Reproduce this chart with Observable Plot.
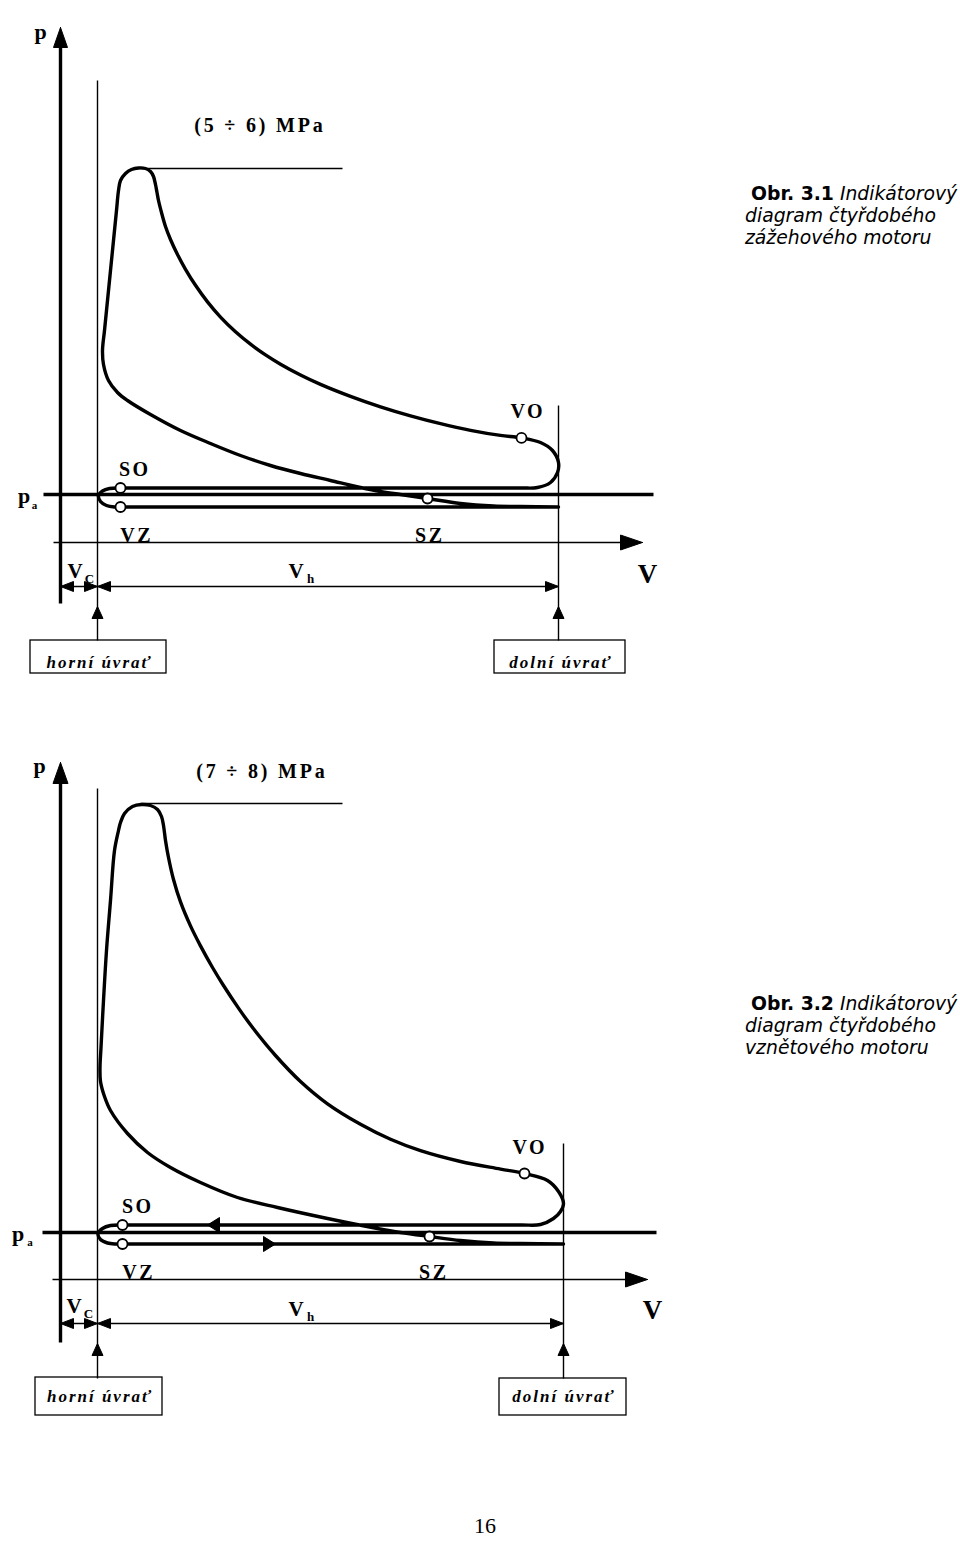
<!DOCTYPE html>
<html>
<head>
<meta charset="utf-8">
<script src="https://cdn.jsdelivr.net/npm/d3@7"></script>
<script src="https://cdn.jsdelivr.net/npm/@observablehq/plot@0.6"></script>
<style>
  html, body { margin: 0; padding: 0; background: #fff; }
  #page { position: relative; width: 960px; height: 1546px; overflow: hidden; background: #fff; }
  #page svg { display: block; }
  .cap { position: absolute; left: 745px; font-family: "DejaVu Sans", Verdana, sans-serif; font-size: 18.8px; line-height: 22px; color: #000; white-space: nowrap; }
  .cap b { font-weight: bold; }
  .cap i { font-style: italic; }
  .cap .l1 { padding-left: 6px; }
  .pg { position: absolute; left: 0; width: 970px; text-align: center; font-family: "Liberation Serif", "Times New Roman", serif; font-size: 22px; line-height: 22px; color: #000; }
</style>
</head>
<body>
<div id="page"></div>
<script>
// ===================== DATA =====================
// Diagram units: V = distance to the right of the p axis, p = height above the V axis.

// --- Obr. 3.1  (spark-ignition / zážehový) ---
const captionSI = ["Obr. 3.1", "Indikátorový", "diagram čtyřdobého", "zážehového motoru"];
const peakLabelSI = "(5 ÷ 6) MPa";
const cycleSI = [
  // compression (from BDC back to TDC)
  [498,35.5],[460,36],[433,36.5],[400,39],[367,44],[340,48],[320,51],[300,55],[270,62],[240,69],
  [210,77],[180,87],[150,99],[120,112],[90,128],[67,142],[57,150],[48,162],[43,178],[42,192],
  // combustion + peak
  [44,212],[47,242],[50,272],[53,302],[56,332],[58,352],[60,362],[65,369],[71,373],[78,374.5],
  [85,374],[90,371],[93,366],[95,358],[96.5,350],[98,342],
  // expansion
  [101,330],[105,316],[110,303],[117,288],[125,273.2],[135,257.2],[147,240.6],[160,225.4],[175,210.7],[190,198.3],
  [205,187.6],[220,178.3],[240,167.5],[260,158.1],[290,146.1],[320,135.6],[350,126.6],[380,118.8],[410,112.2],[440,107.1],
  [461,104.6],
  // blow-down, exhaust, overlap loop, intake
  [480,100],[492,92],[498,80],[497,70],[490,60],[477,55],[460,54.5],[340,54.5],[190,54.5],[80,54.5],
  [60,54.5],[49,54],[42,51.5],[38,47],[40,41],[46,37],[54,35.5],[60,35.5],[190,35.5],[340,35.5],[498,35.5]
];
const markersSI = [
  {name: "SO", V: 60, p: 54.5}, {name: "VZ", V: 60, p: 35.5},
  {name: "SZ", V: 367, p: 44}, {name: "VO", V: 461, p: 104.6}
];
const pointLabelsSI = [
  {text: "SO", V: 73, p: 67}, {text: "VZ", V: 75, p: 1},
  {text: "SZ", V: 368, p: 1}, {text: "VO", V: 466, p: 125}
];
const thinLinesSI = [
  {V1: 37, p1: -98, V2: 37, p2: 462},     // horní úvrať
  {V1: 498, p1: -98, V2: 498, p2: 137},   // dolní úvrať
  {V1: 80, p1: 374, V2: 282, p2: 374},    // peak pressure level
  {V1: -7, p1: 0, V2: 565, p2: 0},        // V axis
  {V1: 0, p1: -44, V2: 498, p2: -44}      // Vc / Vh dimension
];
const thickLinesSI = [
  {V1: 0, p1: -61, V2: 0, p2: 500},       // p axis
  {V1: -17, p1: 48, V2: 593, p2: 48}      // pa
];
const arrowsSI = [
  {V: 0, p: 515, dir: "up", len: 20, half: 7},
  {V: 582, p: 0, dir: "right", len: 22, half: 7.5},
  {V: 0, p: -44, dir: "left", len: 13, half: 5},
  {V: 37, p: -44, dir: "right", len: 13, half: 5},
  {V: 37, p: -44, dir: "left", len: 13, half: 5},
  {V: 498, p: -44, dir: "right", len: 13, half: 5},
  {V: 37, p: -64, dir: "up", len: 12, half: 5.5},
  {V: 498, p: -64, dir: "up", len: 12, half: 5.5}
];
const boxesSI = [
  {text: "horní úvrať", V1: -30, V2: 106, p1: -98, p2: -131, tV: 38, tp: -125},
  {text: "dolní úvrať", V1: 434, V2: 565, p1: -98, p2: -131, tV: 499.5, tp: -125}
];
const axisLabelsSI = [{text: "p", V: -20, p: 504, size: "big"}, {text: "V", V: 587, p: -40, size: "huge"}];
const subLabelsSI = [
  {main: "p", sub: "a", V: -36.5, p: 40, sV: -26, sp: 34},
  {main: "V", sub: "C", V: 14.5, p: -35, sV: 29, sp: -40},
  {main: "V", sub: "h", V: 235.5, p: -35, sV: 250, sp: -40}
];
const peakPosSI = {V: 198, p: 411};

// --- Obr. 3.2  (compression-ignition / vznětový) ---
const captionCI = ["Obr. 3.2", "Indikátorový", "diagram čtyřdobého", "vznětového motoru"];
const peakLabelCI = "(7 ÷ 8) MPa";
const cycleCI = [
  // compression
  [503,35.5],[460,36],[433,36.5],[400,39],[369,43],[340,47],[317,51],[267,61],[217,72],[177,82],
  [140,97],[110,112],[87,127],[67,146],[50,169],[44,183],[40,198],[39.5,212],[40.5,232],
  // combustion + peak
  [43,279],[46,329],[50,379],[54,429],[58,449],[60,457],[64,466],[72,473],[81,475],[90,474],
  [97,470],[101,463],[103,454],[105,439],[108,422],
  // expansion
  [113,400],[120,377.6],[130,353.6],[140,333.6],[152,312],[163,294],[178,271.4],[193,250.7],[215,224],[240,198],
  [267,175.7],[300,155.2],[330,140.2],[360,128.8],[400,118],[440,110.4],[464,106],
  // blow-down, exhaust, overlap loop, intake
  [487,99],[498,88],[503,76],[500,68],[493,61],[480,55],[460,54.5],[340,54.5],[190,54.5],[80,54.5],
  [62,54.5],[50,54],[42,51],[37.5,46],[40,40],[47,36.5],[55,35.5],[62,35.5],[190,35.5],[340,35.5],[503,35.5]
];
const markersCI = [
  {name: "SO", V: 62, p: 54.5}, {name: "VZ", V: 62, p: 35.5},
  {name: "SZ", V: 369, p: 43}, {name: "VO", V: 464, p: 106}
];
const pointLabelsCI = [
  {text: "SO", V: 76, p: 67}, {text: "VZ", V: 77, p: 1},
  {text: "SZ", V: 372, p: 1}, {text: "VO", V: 468, p: 126}
];
const thinLinesCI = [
  {V1: 37, p1: -99, V2: 37, p2: 491},
  {V1: 503, p1: -99, V2: 503, p2: 136},
  {V1: 80, p1: 476, V2: 282, p2: 476},
  {V1: -8, p1: 0, V2: 570, p2: 0},
  {V1: 0, p1: -44, V2: 503, p2: -44}
];
const thickLinesCI = [
  {V1: 0, p1: -63, V2: 0, p2: 500},
  {V1: -18, p1: 47, V2: 596, p2: 47}
];
const arrowsCI = [
  {V: 0, p: 517, dir: "up", len: 21, half: 7.5},
  {V: 587, p: 0, dir: "right", len: 22, half: 7.5},
  {V: 0, p: -44, dir: "left", len: 13, half: 5},
  {V: 37, p: -44, dir: "right", len: 13, half: 5},
  {V: 37, p: -44, dir: "left", len: 13, half: 5},
  {V: 503, p: -44, dir: "right", len: 13, half: 5},
  {V: 37, p: -64, dir: "up", len: 12, half: 5.5},
  {V: 503, p: -64, dir: "up", len: 12, half: 5.5},
  {V: 147, p: 54.5, dir: "left", len: 12, half: 7.5},   // exhaust direction
  {V: 215, p: 35.5, dir: "right", len: 12, half: 7.5}   // intake direction
];
const boxesCI = [
  {text: "horní úvrať", V1: -25, V2: 102, p1: -98, p2: -136, tV: 38.5, tp: -122},
  {text: "dolní úvrať", V1: 439, V2: 566, p1: -99, p2: -136, tV: 502.5, tp: -122}
];
const axisLabelsCI = [{text: "p", V: -21, p: 507, size: "big"}, {text: "V", V: 592, p: -39, size: "huge"}];
const subLabelsCI = [
  {main: "p", sub: "a", V: -42.5, p: 39, sV: -30.5, sp: 34},
  {main: "V", sub: "C", V: 13.5, p: -33, sV: 28, sp: -38},
  {main: "V", sub: "h", V: 235.5, p: -36, sV: 250, sp: -41}
];
const peakPosCI = {V: 200, p: 502};

const pageNumber = "16";

// ===================== DRAWING =====================
const SERIF = "Liberation Serif, Times New Roman, serif";
const letterSpacingByText = {
  "SO": 2.5, "VZ": 2.5, "SZ": 2.5, "VO": 2.5,
  "(5 ÷ 6) MPa": 2.8, "(7 ÷ 8) MPa": 2.8,
  "horní úvrať": 2, "dolní úvrať": 2
};

function triangles(list) {
  const out = [];
  list.forEach((a, i) => {
    const {V, p, dir, len, half} = a;
    let pts;
    if (dir === "up") pts = [[V, p], [V - half, p - len], [V + half, p - len]];
    else if (dir === "down") pts = [[V, p], [V - half, p + len], [V + half, p + len]];
    else if (dir === "right") pts = [[V, p], [V - len, p + half], [V - len, p - half]];
    else pts = [[V, p], [V + len, p + half], [V + len, p - half]];
    pts.push(pts[0]);
    pts.forEach(([x, y]) => out.push({id: i, V: x, p: y}));
  });
  return out;
}

function diagram(d) {
  const svg = Plot.plot({
    width: 960,
    height: d.height,
    margin: 0,
    x: {domain: [-60, 900], range: [0, 960], axis: null},
    y: {domain: [d.pTop, d.pTop - d.height], range: [0, d.height], axis: null},
    style: {background: "white", overflow: "visible"},
    marks: [
      Plot.rect(d.boxes, {x1: "V1", x2: "V2", y1: "p1", y2: "p2", fill: "white", stroke: "black", strokeWidth: 1.3}),
      Plot.link(d.thin, {x1: "V1", y1: "p1", x2: "V2", y2: "p2", stroke: "black", strokeWidth: 1.4}),
      Plot.link(d.thick, {x1: "V1", y1: "p1", x2: "V2", y2: "p2", stroke: "black", strokeWidth: 3.4}),
      Plot.line(d.cycle, {x: (q) => q[0], y: (q) => q[1], curve: "catmull-rom", stroke: "black",
        strokeWidth: 3.4, strokeLinejoin: "round", strokeLinecap: "round"}),
      Plot.line(triangles(d.arrows), {x: "V", y: "p", z: "id", fill: "black", stroke: "black", strokeWidth: 1, strokeLinejoin: "miter"}),
      Plot.dot(d.markers, {x: "V", y: "p", r: 5, fill: "white", stroke: "black", strokeWidth: 1.8}),
      Plot.text(d.pointLabels, {x: "V", y: "p", text: "text", fontFamily: SERIF, fontWeight: "bold", fontSize: 20,
        lineAnchor: "bottom", textAnchor: "middle", fill: "black"}),
      Plot.text([d.peakLabel], {x: () => d.peakPos.V, y: () => d.peakPos.p, text: (t) => t, fontFamily: SERIF,
        fontWeight: "bold", fontSize: 20, lineAnchor: "bottom", textAnchor: "middle", fill: "black"}),
      Plot.text(d.axisLabels.filter((a) => a.size === "big"), {x: "V", y: "p", text: "text", fontFamily: SERIF, fontWeight: "bold",
        fontSize: 22, lineAnchor: "bottom", textAnchor: "middle", fill: "black"}),
      Plot.text(d.axisLabels.filter((a) => a.size === "huge"), {x: "V", y: "p", text: "text", fontFamily: SERIF, fontWeight: "bold",
        fontSize: 27, lineAnchor: "bottom", textAnchor: "middle", fill: "black"}),
      Plot.text(d.subLabels, {x: "V", y: "p", text: "main", fontFamily: SERIF, fontWeight: "bold",
        fontSize: (s) => s.main === "p" ? 22 : 21, lineAnchor: "bottom", textAnchor: "middle", fill: "black"}),
      Plot.text(d.subLabels, {x: "sV", y: "sp", text: "sub", fontFamily: SERIF, fontWeight: "bold",
        fontSize: (s) => s.sub === "a" ? 11 : 13, lineAnchor: "bottom", textAnchor: "middle", fill: "black"}),
      Plot.text(d.boxes, {x: "tV", y: "tp", text: "text", fontFamily: SERIF, fontWeight: "bold", fontStyle: "italic",
        fontSize: 17, lineAnchor: "bottom", textAnchor: "middle", fill: "black"})
    ]
  });
  svg.querySelectorAll("text").forEach((t) => {
    const v = letterSpacingByText[t.textContent];
    if (v) {
      t.style.letterSpacing = v + "px";
      t.setAttribute("dx", (v / 2) + "px");
    }
  });
  return svg;
}

const page = document.getElementById("page");

page.appendChild(diagram({
  height: 700, pTop: 542,
  cycle: cycleSI, markers: markersSI, pointLabels: pointLabelsSI, thin: thinLinesSI, thick: thickLinesSI,
  arrows: arrowsSI, boxes: boxesSI, axisLabels: axisLabelsSI, subLabels: subLabelsSI,
  peakLabel: peakLabelSI, peakPos: peakPosSI
}));
page.appendChild(diagram({
  height: 760, pTop: 579,
  cycle: cycleCI, markers: markersCI, pointLabels: pointLabelsCI, thin: thinLinesCI, thick: thickLinesCI,
  arrows: arrowsCI, boxes: boxesCI, axisLabels: axisLabelsCI, subLabels: subLabelsCI,
  peakLabel: peakLabelCI, peakPos: peakPosCI
}));

function caption(lines, top) {
  const div = document.createElement("div");
  div.className = "cap";
  div.style.top = top + "px";
  const l1 = document.createElement("div");
  l1.className = "l1";
  const b = document.createElement("b"); b.textContent = lines[0];
  const i = document.createElement("i"); i.textContent = " " + lines[1];
  l1.appendChild(b); l1.appendChild(i);
  div.appendChild(l1);
  for (const t of lines.slice(2)) {
    const l = document.createElement("div");
    const it = document.createElement("i"); it.textContent = t;
    l.appendChild(it);
    div.appendChild(l);
  }
  page.appendChild(div);
}
caption(captionSI, 183);
caption(captionCI, 993);

const pg = document.createElement("div");
pg.className = "pg";
pg.style.top = "1515px";
pg.textContent = pageNumber;
page.appendChild(pg);
</script>
</body>
</html>
